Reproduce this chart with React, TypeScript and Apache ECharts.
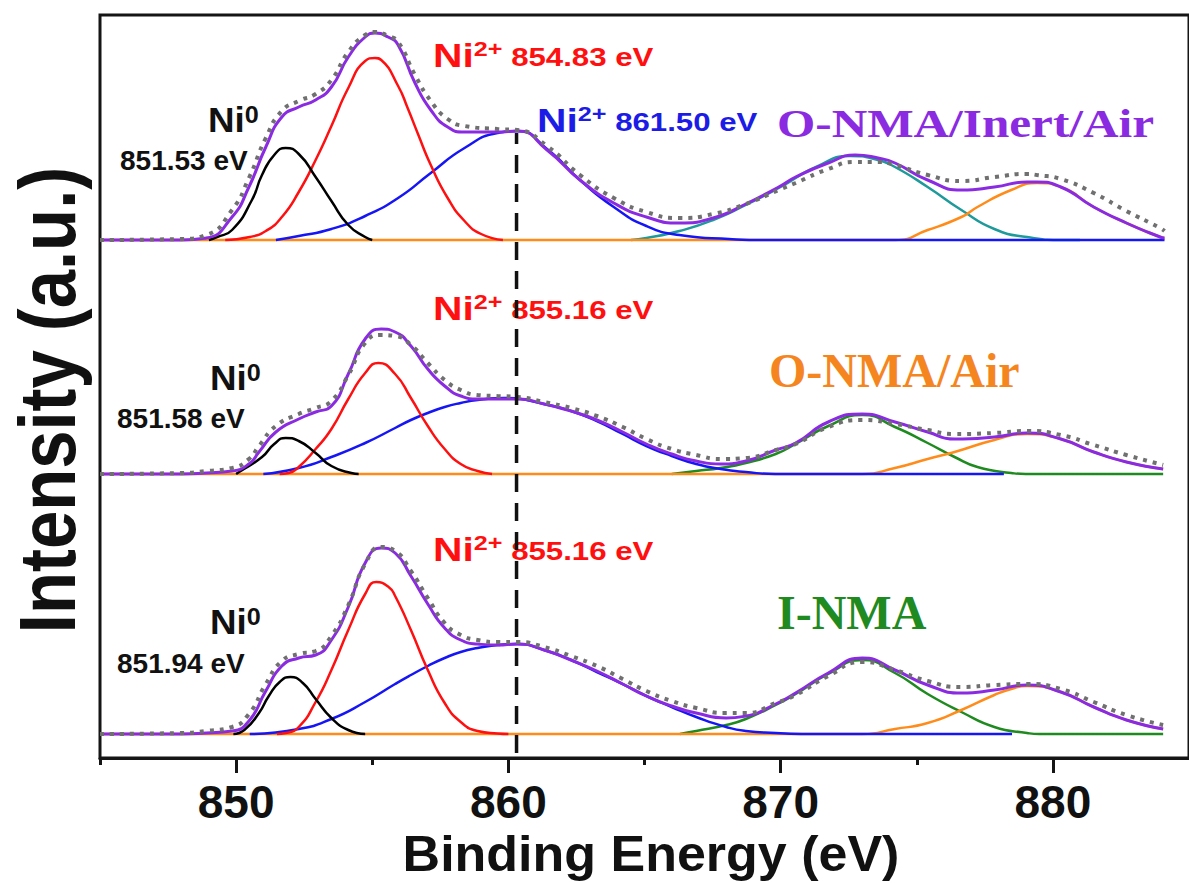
import React, { useEffect, useRef } from 'react';
import * as echarts from 'echarts';

// ---------- axis / layout values ----------
const energyMin = 845;
const energyMax = 885;
const majorTicks = [850, 860, 870, 880];
const minorTicks = [845, 855, 865, 875];
const panelNames = ['O-NMA/Inert/Air', 'O-NMA/Air', 'I-NMA'];
const panelOffsets = [51.8, 28.4, 2.4]; // vertical stacking offsets (a.u.)
const refLineEnergy = 860.3;
const refLineRange = [0.5, 62.5];

// ---------- O-NMA/Inert/Air (top) ----------
const topFit = [[845,0],[848,0],[848.9,0.2],[849.85,2.3],[850.47,5.3],[851.09,9.3],[851.68,12.3],[852.3,13.3],[852.92,14.0],[853.5,15.3],[854.12,18.3],[854.74,20.3],[855.1,20.7],[855.58,20.3],[855.95,19.5],[856.57,15.7],[857.15,13.0],[857.77,11.3],[858.39,10.8],[859.6,10.8],[860.33,10.9],[861.42,9.0],[862.63,6.0],[863.87,3.7],[865.07,2.3],[866.28,1.7],[867.52,2.2],[868.72,3.6],[869.93,5.3],[870.55,6.3],[871.75,7.7],[872.74,8.5],[873.58,8.2],[874.2,7.7],[875.4,6.0],[876.64,5.0],[877.85,5.3],[879.05,5.8],[879.42,5.8],[880.29,5.3],[881.5,3.3],[882.7,1.7],[883.94,0.3],[884.1,0.2]];
const topRaw = [[845,0],[848,0.1],[848.9,0.5],[849.85,3.0],[850.47,6.2],[851.09,10.2],[851.68,12.9],[852.3,13.9],[852.92,14.6],[853.5,16.0],[854.12,18.8],[854.74,20.5],[855.1,20.8],[855.58,20.4],[855.95,19.8],[856.57,16.5],[857.15,13.9],[857.77,12.1],[858.39,11.4],[859.6,11.1],[860.33,11.0],[861.42,9.4],[862.63,6.5],[863.87,4.2],[865.07,2.8],[866.28,2.2],[867.52,2.6],[868.72,3.6],[869.93,5.0],[870.55,5.7],[871.75,7.1],[872.74,7.8],[873.58,7.8],[874.2,7.5],[875.4,6.5],[876.64,5.9],[877.85,6.3],[879.05,6.6],[879.42,6.5],[880.29,6.1],[881.5,4.7],[882.7,2.9],[883.94,1.2],[884.1,0.9]];
const topNi0 = [[849.0,0],[849.3,0.3],[849.85,1.0],[850.58,4.0],[850.95,6.5],[851.4,8.5],[851.82,9.2],[852.3,8.6],[852.92,6.3],[853.5,3.9],[854.12,1.5],[854.74,0.3],[855.0,0]];
const topNi2 = [[849.6,0],[850.5,0.3],[851.09,0.9],[851.68,2.3],[852.3,4.8],[852.92,8.0],[853.5,11.4],[854.12,15.2],[854.74,17.9],[855.1,18.2],[855.33,18.0],[855.95,15.4],[856.3,13.2],[856.68,10.6],[857.15,7.5],[857.77,4.2],[858.39,1.9],[859.0,0.6],[859.8,0]];
const topSatA = [[851.46,0],[852.3,0.4],[853.5,1.1],[854.74,2.4],[855.95,4.2],[857.15,6.7],[858.39,9.2],[859.6,10.7],[860.33,10.9],[861.42,9.1],[862.63,6.0],[863.87,3.3],[865.07,1.4],[866.28,0.5],[868.1,0.1],[869.45,0],[884.1,0]];
const topSatB = [[864.5,0],[865.07,0.2],[866.28,0.9],[867.52,2.0],[868.72,3.5],[869.93,5.2],[871.3,7.3],[872.55,8.4],[873.58,8.0],[874.2,7.3],[875.4,5.3],[876.64,3.0],[877.85,1.1],[879.05,0.3],[880.4,0],[881,0]];
const topSatC = [[845,0],[870,0],[874.2,0],[875.4,1.0],[876.64,2.3],[877.23,3.3],[878.47,5.0],[879.42,5.7],[880.29,5.3],[881.5,3.3],[882.7,1.7],[883.94,0.3],[884.1,0.2]];

// ---------- O-NMA/Air (middle) ----------
const midFit = [[845,0],[848,0],[848.9,0.1],[849.85,0.3],[850.47,1.0],[850.84,2.2],[851.46,4.2],[852.3,5.5],[852.92,6.2],[853.5,6.8],[854.12,10.0],[854.74,13.5],[855.33,14.5],[855.84,14.2],[856.42,12.8],[857.04,10.5],[857.66,8.8],[858.25,7.8],[858.87,7.5],[859.6,7.5],[860.33,7.5],[861.31,7.0],[862.3,6.3],[863.25,5.4],[864.2,4.2],[865.07,3.0],[866.0,2.0],[866.9,1.3],[867.8,1.0],[868.72,1.3],[869.82,2.4],[870.55,3.1],[871.75,5.2],[873.0,6.0],[874.2,5.2],[875.4,4.2],[876.39,3.5],[877.85,3.7],[879.05,4.1],[880.29,3.5],[881.5,2.2],[882.7,1.2],[884.05,0.5]];
const midRaw = [[845,0],[848,0.1],[848.9,0.3],[849.85,0.6],[850.47,1.5],[850.84,2.8],[851.46,4.8],[852.3,6.0],[852.92,6.6],[853.5,7.3],[854.12,9.9],[854.74,13.1],[855.33,13.9],[855.84,13.8],[856.42,12.9],[857.04,11.1],[857.66,9.4],[858.25,8.4],[858.87,7.9],[859.6,7.8],[860.33,7.7],[861.31,7.2],[862.3,6.6],[863.25,5.8],[864.2,4.7],[865.07,3.5],[866.0,2.5],[866.9,1.9],[867.8,1.5],[868.72,1.6],[869.82,2.4],[870.55,3.0],[871.75,4.7],[873.0,5.4],[874.2,5.0],[875.4,4.4],[876.39,4.0],[877.85,4.1],[879.05,4.3],[880.29,3.9],[881.5,2.9],[882.7,1.9],[884.05,0.9]];
const midNi0 = [[850.0,0],[850.11,0.2],[850.95,1.7],[851.4,3.0],[851.82,3.6],[852.3,3.3],[852.92,2.1],[853.5,0.8],[854.23,0.1],[854.5,0]];
const midNi2 = [[851.6,0],[851.93,0.1],[852.3,0.7],[852.92,2.5],[853.5,4.5],[854.12,7.5],[854.74,10.1],[855.22,11.1],[855.84,10.0],[856.42,7.6],[857.04,4.8],[857.66,2.5],[858.25,1.0],[858.87,0.3],[859.4,0]];
const midSatA = [[851.0,0],[852.3,0.6],[853.5,1.7],[854.74,3.1],[855.84,4.6],[856.42,5.4],[857.04,6.1],[857.66,6.7],[858.25,7.1],[858.87,7.4],[859.85,7.6],[861.31,7.0],[862.3,6.3],[863.25,5.3],[864.2,4.0],[865.07,2.8],[866.0,1.8],[866.9,1.0],[867.8,0.5],[868.72,0.2],[869.8,0],[878.2,0]];
const midSatB = [[866.0,0],[866.9,0.3],[867.8,0.6],[868.72,1.1],[869.82,2.0],[870.55,3.0],[871.75,4.8],[873.0,5.9],[874.2,4.7],[875.4,3.1],[876.39,1.7],[877.23,0.7],[878.47,0.1],[879.0,0],[884.05,0]];
const midSatC = [[845,0],[870,0],[873.0,0],[874.2,0.6],[875.4,1.5],[876.39,2.2],[877.85,3.4],[879.05,4.0],[880.29,3.5],[881.5,2.2],[882.7,1.2],[884.05,0.5]];

// ---------- I-NMA (bottom) ----------
const botFit = [[845,0],[848,0],[848.9,0.1],[849.85,0.3],[850.47,1.3],[851.09,4.3],[851.68,6.8],[852.3,7.6],[852.92,7.9],[853.5,9.4],[854.12,12.7],[854.74,17.1],[855.33,18.6],[855.84,18.1],[856.42,15.8],[857.04,13.0],[857.66,10.6],[858.25,9.4],[858.87,9.0],[859.6,8.9],[860.33,9.0],[861.31,8.4],[862.3,7.4],[863.25,6.3],[864.2,5.0],[865.07,3.8],[866.0,2.8],[866.9,2.1],[868.0,1.6],[868.72,1.8],[869.82,3.0],[870.55,4.1],[871.75,6.1],[873.0,7.6],[874.2,6.4],[875.4,4.9],[876.64,4.1],[877.85,4.4],[879.05,4.9],[880.29,4.2],[881.5,2.7],[882.7,1.4],[884.05,0.5]];
const botRaw = [[845,0],[848,0.1],[848.9,0.3],[849.85,0.7],[850.47,2.0],[851.09,5.0],[851.68,7.3],[852.3,8.0],[852.92,8.3],[853.5,9.8],[854.12,12.9],[854.74,17.0],[855.33,18.7],[855.84,18.3],[856.42,16.3],[857.04,13.6],[857.66,11.1],[858.25,9.9],[858.87,9.4],[859.6,9.2],[860.33,9.2],[861.31,8.7],[862.3,7.8],[863.25,6.8],[864.2,5.5],[865.07,4.3],[866.0,3.3],[866.9,2.6],[868.0,2.1],[868.72,2.1],[869.82,3.1],[870.55,3.9],[871.75,5.8],[873.0,7.2],[874.2,6.4],[875.4,5.3],[876.64,4.7],[877.85,4.9],[879.05,5.0],[880.29,4.5],[881.5,3.2],[882.7,1.9],[884.05,0.9]];
const botNi0 = [[849.9,0],[850.3,0.4],[850.84,2.1],[851.2,3.8],[851.6,5.2],[852.0,5.7],[852.45,5.1],[852.92,3.5],[853.5,1.6],[854.12,0.4],[854.74,0]];
const botNi2 = [[851.5,0],[851.82,0.1],[852.3,0.7],[852.92,3.2],[853.5,6.4],[854.12,10.4],[854.74,14.0],[855.15,15.2],[855.6,14.7],[855.84,13.8],[856.42,10.4],[857.04,6.4],[857.66,3.1],[858.25,1.2],[858.87,0.3],[859.6,0.05],[860.0,0]];
const botSatA = [[850.5,0],[852.3,0.5],[853.5,1.5],[854.74,3.2],[855.84,5.0],[856.42,5.9],[857.04,6.8],[857.66,7.6],[858.25,8.2],[858.87,8.6],[859.6,8.9],[860.33,9.0],[861.31,8.4],[862.3,7.4],[863.25,6.2],[864.2,5.0],[865.07,3.8],[866.0,2.7],[866.9,1.7],[868.0,0.7],[868.72,0.3],[869.82,0.1],[871.0,0],[878.5,0]];
const botSatB = [[866.3,0],[866.9,0.3],[868.0,0.9],[868.72,1.5],[869.82,2.9],[870.55,4.0],[871.75,6.0],[873.0,7.4],[874.2,6.1],[875.4,4.0],[876.64,2.2],[877.85,0.7],[879.05,0.1],[879.5,0],[884.05,0]];
const botSatC = [[845,0],[870,0],[873.0,0],[874.2,0.5],[875.4,1.1],[876.64,2.4],[877.85,3.9],[878.47,4.5],[879.05,4.8],[880.29,4.2],[881.5,2.7],[882.7,1.4],[884.05,0.5]];

const panels = [
  { fit: topFit, raw: topRaw, ni0: topNi0, ni2: topNi2, satA: topSatA, satB: topSatB, satC: topSatC, satBColor: '#1e9a9a' },
  { fit: midFit, raw: midRaw, ni0: midNi0, ni2: midNi2, satA: midSatA, satB: midSatB, satC: midSatC, satBColor: '#1f8a1f' },
  { fit: botFit, raw: botRaw, ni0: botNi0, ni2: botNi2, satA: botSatA, satB: botSatB, satC: botSatC, satBColor: '#1f8a1f' },
];

const C = {
  fit: '#8a2be2',
  raw: '#707070',
  ni0: '#000000',
  ni2: '#ff1010',
  satA: '#1515f5',
  satC: '#ff8c1a',
  axis: '#151515',
};

const SANS = '"Liberation Sans", Arial, sans-serif';
const SERIF = '"Liberation Serif", "Times New Roman", serif';

function shifted(data: number[][], off: number) {
  return data.map(([x, y]) => [x, y + off]);
}

function curve(name: string, data: number[][], color: string, width: number, extra: any = {}) {
  return {
    type: 'line',
    name,
    data,
    smooth: 0.55,
    symbol: 'none',
    silent: true,
    lineStyle: { color, width, ...(extra.lineStyle || {}) },
  };
}

function supLabel(x: number, y: number, base: string, sup: string, value: string, color: string, sizes: number[], scaleX: number) {
  return {
    type: 'text',
    x,
    y,
    scaleX,
    style: {
      text: value ? `{n|${base}}{s|${sup}}{v| ${value}}` : `{n|${base}}{s|${sup}}`,
      textAlign: 'left',
      textVerticalAlign: 'middle',
      fill: color,
      rich: {
        n: { fontSize: sizes[0], fontWeight: 'bold', fontFamily: SANS, fill: color },
        s: { fontSize: sizes[1], fontWeight: 'bold', fontFamily: SANS, fill: color, verticalAlign: 'top' },
        v: { fontSize: sizes[2], fontWeight: 'bold', fontFamily: SANS, fill: color, padding: [4, 0, 0, 0] },
      },
    },
  };
}

function plainText(x: number, y: number, text: string, color: string, font: string, scaleX = 1, align = 'left') {
  return {
    type: 'text',
    x,
    y,
    scaleX,
    style: { text, font, fill: color, textAlign: align, textVerticalAlign: 'middle' },
  };
}

export default function App() {
  const ref = useRef<HTMLDivElement>(null);

  useEffect(() => {
    if (!ref.current) return;
    const chart = echarts.init(ref.current, null, { renderer: 'svg' });

    const series: any[] = [];
    panels.forEach((p, i) => {
      const off = panelOffsets[i];
      series.push(curve(`${panelNames[i]} sat2`, shifted(p.satB, off), p.satBColor, 2.5));
      series.push(curve(`${panelNames[i]} sat3`, shifted(p.satC, off), C.satC, 2.5));
      series.push(curve(`${panelNames[i]} Ni2+ sat`, shifted(p.satA, off), C.satA, 2.5));
      series.push(curve(`${panelNames[i]} Ni2+`, shifted(p.ni2, off), C.ni2, 2.5));
      series.push(curve(`${panelNames[i]} Ni0`, shifted(p.ni0, off), C.ni0, 2.5));
      series.push(curve(`${panelNames[i]} fit`, shifted(p.fit, off), C.fit, 3));
      series.push(curve(`${panelNames[i]} raw`, shifted(p.raw, off), C.raw, 4, { lineStyle: { type: [4, 6], cap: 'butt' } }));
    });
    series.push({
      type: 'line',
      name: 'reference',
      data: [[refLineEnergy, refLineRange[0]], [refLineEnergy, refLineRange[1]]],
      symbol: 'none',
      silent: true,
      lineStyle: { color: '#111', width: 3.5, type: [18, 11] },
      z: 5,
    });

    const graphic: any[] = [
      {
        type: 'text', x: 47, y: 400, rotation: Math.PI / 2, scaleX: 0.86,
        style: { text: 'Intensity (a.u.)', font: `bold 80px ${SANS}`, fill: '#111', textAlign: 'center', textVerticalAlign: 'middle' },
      },
      plainText(651, 854, 'Binding Energy (eV)', '#111', `bold 50px ${SANS}`, 1.04, 'center'),
      // top panel
      supLabel(208, 120, 'Ni', '0', '', '#111', [35, 24, 10], 1.05),
      plainText(120, 160, '851.53 eV', '#111', `bold 28px ${SANS}`),
      supLabel(433, 55, 'Ni', '2+', '854.83 eV', C.ni2, [34, 21, 26], 1.2),
      supLabel(537, 120, 'Ni', '2+', '861.50 eV', '#1c1ce6', [34, 21, 26], 1.2),
      plainText(777, 124, panelNames[0], C.fit, `bold 40px ${SERIF}`, 1.23),
      // middle panel
      supLabel(210, 378, 'Ni', '0', '', '#111', [35, 24, 10], 1.05),
      plainText(117, 418, '851.58 eV', '#111', `bold 28px ${SANS}`),
      supLabel(433, 308, 'Ni', '2+', '855.16 eV', C.ni2, [34, 21, 26], 1.2),
      plainText(769, 370, panelNames[1], '#f5861f', `bold 48px ${SERIF}`),
      // bottom panel
      supLabel(210, 622, 'Ni', '0', '', '#111', [35, 24, 10], 1.05),
      plainText(117, 663, '851.94 eV', '#111', `bold 28px ${SANS}`),
      supLabel(433, 549, 'Ni', '2+', '855.16 eV', C.ni2, [34, 21, 26], 1.2),
      plainText(777, 612, panelNames[2], '#1f8a1f', `bold 48px ${SERIF}`),
    ];

    chart.setOption({
      animation: false,
      backgroundColor: '#ffffff',
      grid: {
        left: 100, top: 15, width: 1096, height: 743,
        show: true, borderColor: C.axis, borderWidth: 3, backgroundColor: 'transparent',
      },
      xAxis: [
        {
          type: 'value', min: energyMin, max: energyMax, position: 'bottom',
          axisLine: { show: true, lineStyle: { color: C.axis, width: 3 } },
          axisTick: { show: true, customValues: majorTicks, length: 15, lineStyle: { color: C.axis, width: 3 } },
          axisLabel: { customValues: majorTicks, fontSize: 46, fontWeight: 'bold', color: '#111', fontFamily: SANS, margin: 21 },
          splitLine: { show: false },
        },
        {
          type: 'value', min: energyMin, max: energyMax, position: 'bottom',
          axisLine: { show: false },
          axisTick: { show: true, customValues: minorTicks, length: 7, lineStyle: { color: C.axis, width: 3 } },
          axisLabel: { show: false, customValues: minorTicks },
          splitLine: { show: false },
        },
      ],
      yAxis: {
        type: 'value', min: 0, max: 74.3,
        axisLine: { show: false }, axisTick: { show: false }, axisLabel: { show: false }, splitLine: { show: false },
      },
      series,
      graphic,
    });

    return () => chart.dispose();
  }, []);

  return <div ref={ref} style={{ position: 'absolute', left: 0, top: 0, width: 1189, height: 883, background: '#fff' }} />;
}
